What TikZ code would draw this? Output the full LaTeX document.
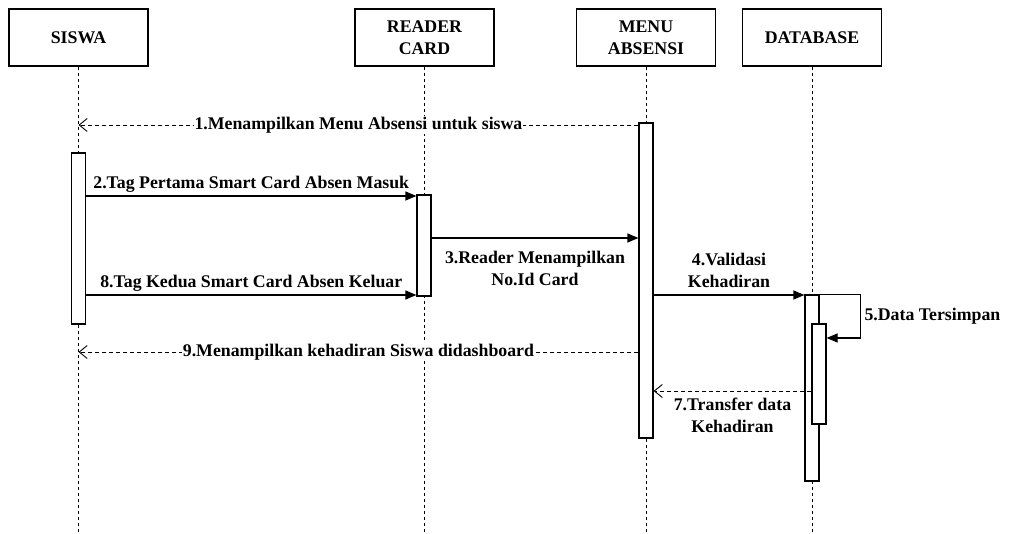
\documentclass[tikz,border=0pt]{standalone}
\usepackage{fontspec}
\setmainfont{Liberation Serif}
\usetikzlibrary{arrows.meta}

\begin{document}
\begin{tikzpicture}[
  x = 1pt, y = -1pt,
  every node/.style = {font = \bfseries\fontsize{17.8}{22}\selectfont},
  head/.style = {draw, line width = 1.3pt, minimum width = 139pt, minimum height = 57pt, align = center},
  life/.style = {dash pattern = on 3pt off 3pt, line width = 0.9pt},
  bar/.style = {draw, fill = white, line width = 1.2pt, minimum width = 14pt, inner sep = 0pt},
  call/.style = {line width = 1.2pt, -{Triangle[length = 11pt, width = 9pt]}},
  reply/.style = {line width = 0.9pt, dash pattern = on 4pt off 3pt, -{Straight Barb[length = 8pt, width = 13pt]}},
  ]
  \useasboundingbox (0,0) rectangle (1012,534);

  % lifeline heads
  \node[head] (siswa)  at (78.5,37.5) {SISWA};
  \node[head] (reader) at (424.5,37.5) {READER\\CARD};
  \node[head] (menu)   at (646,37.5) {MENU\\ABSENSI};
  \node[head] (db)     at (812,37.5) {DATABASE};

  \foreach \h in {siswa, reader, menu, db}
    \draw[life] (\h.south) -- (\h.south |- 0,534);

  % activation bars
  \node[bar, minimum height = 171pt] (actS)  at (78.5,238.5) {};
  \node[bar, minimum height = 101pt] (actR)  at (424,245.5) {};
  \node[bar, minimum height = 315pt] (actM)  at (646,280.5) {};
  \node[bar, minimum height = 186pt] (actD)  at (812,388) {};
  \node[bar, minimum height = 100pt] (actD2) at (819,374) {};

  % messages
  \draw[reply] (actM.west |- 0,125) -- node[fill = white, inner sep = 1pt] {1.Menampilkan Menu Absensi untuk siswa} (siswa.south |- 0,125);
  \draw[call] (actS.east |- 0,196) -- node[above] {2.Tag Pertama Smart Card Absen Masuk} (actR.west |- 0,196);
  \draw[call] (actR.east |- 0,238) -- node[below, align = center, yshift = -9pt] {3.Reader Menampilkan\\No.Id Card} (actM.west |- 0,238);
  \draw[call] (actM.east |- 0,295) -- node[above, align = center, yshift = 3pt] {4.Validasi\\Kehadiran} (actD.west |- 0,295);
  \draw[call] (actD.north east) -- ++(41,0) |- node[pos = 0.25, right] {5.Data Tersimpan} (actD2.east |- 0,338);
  \draw[call] (actS.east |- 0,295) -- node[above] {8.Tag Kedua Smart Card Absen Keluar} (actR.west |- 0,295);
  \draw[reply] (actM.west |- 0,352) -- node[fill = white, inner sep = 1pt] {9.Menampilkan kehadiran Siswa didashboard} (siswa.south |- 0,352);
  \draw[reply] (actD2.west |- 0,391) -- node[below, align = center, yshift = -3pt] {7.Transfer data\\Kehadiran} (actM.east |- 0,391);
\end{tikzpicture}
\end{document}
